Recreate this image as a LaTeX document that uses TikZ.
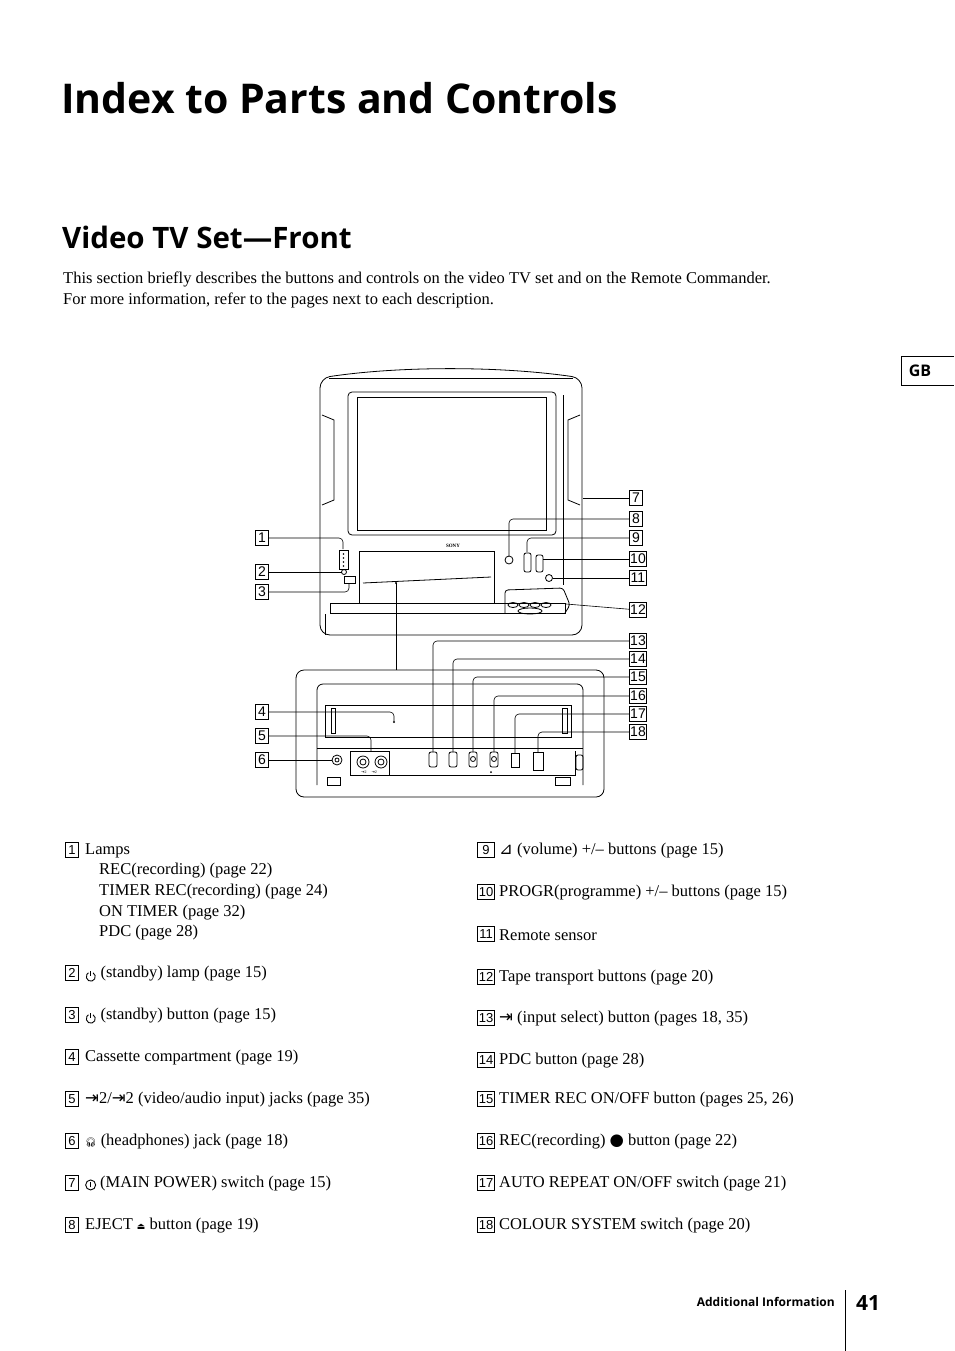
\documentclass[tikz,border=0pt]{standalone}
\usepackage{fontspec}
\setmainfont{Liberation Serif}
\newfontfamily\headfont{Open Sans}
\newfontfamily\numfont{Liberation Sans}
\newfontfamily\symfont{DejaVu Sans}
\newfontfamily\emofont{Noto Emoji}
\usetikzlibrary{positioning}

\tikzset{
  nbox/.style={draw, thick, inner sep=0pt, minimum width=13pt, minimum height=15pt, font=\numfont\fontsize{14}{14}\selectfont},
  lbox/.style={draw, thick, inner sep=0.5pt, minimum width=13pt, minimum height=15pt, font=\numfont\fontsize{13}{13}\selectfont},
  item/.style={anchor=west, font=\fontsize{16.5}{20}\selectfont, inner sep=0pt, align=left},
  part/.style={draw, line width=0.8pt},
  lead/.style={draw, line width=0.6pt, rounded corners=4pt}
}
\newcommand{\stby}{\tikz[baseline=-0.5pt, line width=0.9pt]{\draw (60:4.5pt) arc (60:-240:4.5pt); \draw (0,1pt) -- (0,6pt);}}
\newcommand{\mainpw}{\tikz[baseline=-0.5pt, line width=0.9pt]{\draw (0,2.5pt) circle (5pt); \draw (0,0) -- (0,5pt);}}
\newcommand{\insel}{{\symfont ⇥}}

\begin{document}
\begin{tikzpicture}[x=1pt, y=-1pt]
  \useasboundingbox (0,0) rectangle (954,1351);

  % headings
  \node[anchor=base west, inner sep=0pt, font=\headfont\bfseries\fontsize{41}{41}\selectfont] (title) at (61,114) {Index to Parts and Controls};
  \node[anchor=base west, inner sep=0pt, font=\headfont\bfseries\fontsize{29.5}{29.5}\selectfont] (sub) at (62,248) {Video TV Set—Front};
  \node[anchor=north west, inner sep=0pt, align=left, font=\fontsize{16.5}{21}\selectfont] (intro) at (63,272)
    {This section briefly describes the buttons and controls on the video TV set and on the Remote Commander.\\
     For more information, refer to the pages next to each description.};

  % GB tab
  \draw[line width=0.8pt] (954,356) -- (901,356) -- (901,385) -- (954,385);
  \node[font=\headfont\bfseries\fontsize{16}{16}\selectfont] (gb) at (920,371) {GB};

  % TV set
  \draw[part, rounded corners=10pt] (320,378) .. controls (400,366) and (500,366) .. (582,378) -- (582,635) -- (320,635) -- cycle;
  \draw[part] (329,378) -- (573,378);
  \draw[part, rounded corners=4pt] (348,392) rectangle (556,535);
  \draw[part] (357,397) rectangle (546,530);
  \draw[part] (322,415) -- (334,420) -- (334,500) -- (322,505);
  \draw[part] (580,415) -- (568,420) -- (568,500) -- (580,505);
  \draw[part] (563,395) -- (563,585);
  \draw[part] (339,550) rectangle (348,569);
  \foreach \yy in {554,558,562,566} \fill (343.5,\yy) circle (0.8);
  \draw[part] (344,572) circle (2.5);
  \draw[part] (344,576) rectangle (355,583);
  \draw[part] (359,551) rectangle (494,603);
  \draw[part] (363,583) -- (491,577);
  \fill (396,583) circle (1.2);
  \node[font=\bfseries\tiny] (sony) at (453,546) {SONY};
  \draw[part] (509,560) circle (4);
  \draw[part, rounded corners=2pt] (524,553) rectangle (531,572);
  \draw[part, rounded corners=2pt] (536,555) rectangle (543,572);
  \draw[part] (549,578) circle (3.5);
  \draw[part] (330,603) -- (565,603) -- (565,613) -- (330,613) -- cycle;
  \draw[part, rounded corners=3pt] (505,613) -- (505,590) -- (563,588) -- (570,605) -- (565,613);
  \foreach \xx in {513,524,535,546} \draw[part] (\xx,605) ellipse (5 and 2.5);
  \draw[part] (530,611) ellipse (12 and 3);
  \draw[part] (325,635) -- (325,614);

  % VCR panel close-up
  \draw[part, rounded corners=8pt] (296,670) rectangle (604,797);
  \draw[part, rounded corners=6pt] (317,785) -- (317,684) -- (583,684) -- (583,785);
  \draw[part] (325,705) rectangle (571,737);
  \draw[part] (331,708) rectangle (335,733);
  \draw[part] (562,708) rectangle (567,733);
  \fill (394,722) circle (1.2);
  \draw[part] (317,748) -- (583,748);
  \draw[part] (350,751) rectangle (389,775);
  \draw[part] (350,775) -- (575,775) -- (575,751);
  \foreach \xx in {363,381} {\draw[part] (\xx,762) circle (6); \draw[part] (\xx,762) circle (3);}
  \draw[part] (337,760) circle (5);
  \draw[part] (337,760) circle (2);
  \draw[part] (327,777) rectangle (340,785);
  \draw[part] (555,777) rectangle (570,785);
  \draw[part, rounded corners=2pt] (576,755) rectangle (583,770);
  \foreach \xx in {429,449,469,490} \draw[part, rounded corners=2pt] (\xx,752) rectangle ++(8,15);
  \foreach \xx in {473,494} \draw[part] (\xx,759) circle (2.5);
  \draw[part] (511,753) rectangle (519,767);
  \draw[part] (533,752) rectangle (543,770);
  \node[font=\fontsize{4}{4}\selectfont] (jk) at (369,772) {\insel 2 \quad\insel 2};
  \fill (491,772) circle (1);

  % number boxes
  \foreach \n/\yy in {7/498, 8/519, 9/538}
    \node[nbox] (n\n) at (636,\yy) {\n};
  \foreach \n/\yy in {10/559, 11/578, 12/610, 13/641, 14/659, 15/677, 16/696, 17/714, 18/732}
    \node[nbox, minimum width=17pt] (n\n) at (638,\yy) {\n};
  \foreach \n/\yy in {1/538, 2/572, 3/592, 4/712, 5/736, 6/760}
    \node[nbox] (n\n) at (262,\yy) {\n};

  % leaders
  \draw[lead] (n1) -| (343,549);
  \draw[lead] (n2) -- (342,572);
  \draw[lead] (n3) -| (349,584);
  \draw[lead] (396,583) -- (396,670);
  \draw[lead] (n4) -| (394,721);
  \draw[lead] (n5) -| (371,751);
  \draw[lead] (n6) -- (332,760);
  \draw[lead] (n7) -- (583,498);
  \draw[lead] (n8) -| (509,556);
  \draw[lead] (n9) -| (527,552);
  \draw[lead] (n10) -- (543,559);
  \draw[lead] (n11) -- (553,578);
  \draw[lead] (n12) -- (566,604);
  \draw[lead] (n13) -| (433,752);
  \draw[lead] (n14) -| (453,752);
  \draw[lead] (n15) -| (473,752);
  \draw[lead] (n16) -| (494,752);
  \draw[lead] (n17) -| (515,753);
  \draw[lead] (n18) -| (538,752);

  % descriptions
  \foreach \n/\yy/\t in {
      1/851/{Lamps},
      2/974/{\stby\ (standby) lamp (page 15)},
      3/1016/{\stby\ (standby) button (page 15)},
      4/1058/{Cassette compartment (page 19)},
      5/1100/{\insel 2/\insel 2 (video/audio input) jacks (page 35)},
      6/1142/{{\emofont\small 🎧} (headphones) jack (page 18)},
      7/1184/{\mainpw\ (MAIN POWER) switch (page 15)},
      8/1226/{EJECT {\symfont\small ⏏} button (page 19)}} {
    \node[lbox] (l\n) at (72,\yy-1) {\n};
    \node[item] (t\n) at (85,\yy) {\t};
  }
  \node[anchor=north west, inner sep=0pt, align=left, font=\fontsize{16.5}{20.7}\selectfont] (lamps) at (99,863)
    {REC(recording) (page 22)\\TIMER REC(recording) (page 24)\\ON TIMER (page 32)\\PDC (page 28)};
  \foreach \n/\yy/\t in {
      9/851/{{\symfont ⊿} (volume) +/– buttons (page 15)},
      10/893/{PROGR(programme) +/– buttons (page 15)},
      11/935/{Remote sensor},
      12/978/{Tape transport buttons (page 20)},
      13/1019/{\insel\ (input select) button (pages 18, 35)},
      14/1061/{PDC button (page 28)},
      15/1100/{TIMER REC ON/OFF button (pages 25, 26)},
      16/1142/{REC(recording) {\symfont ●} button (page 22)},
      17/1184/{AUTO REPEAT ON/OFF switch (page 21)},
      18/1226/{COLOUR SYSTEM switch (page 20)}} {
    \node[lbox, minimum width=17pt] (r\n) at (486,\yy-1) {\n};
    \node[item] (u\n) at (499,\yy) {\t};
  }

  % footer
  \node[anchor=base east, inner sep=0pt, font=\headfont\bfseries\fontsize{12}{12}\selectfont] (foot) at (835,1306) {Additional Information};
  \draw[line width=0.8pt] (845,1290) -- (845,1351);
  \node[anchor=base west, inner sep=0pt, font=\headfont\bfseries\fontsize{21}{21}\selectfont] (page) at (856,1310) {41};
\end{tikzpicture}
\end{document}
